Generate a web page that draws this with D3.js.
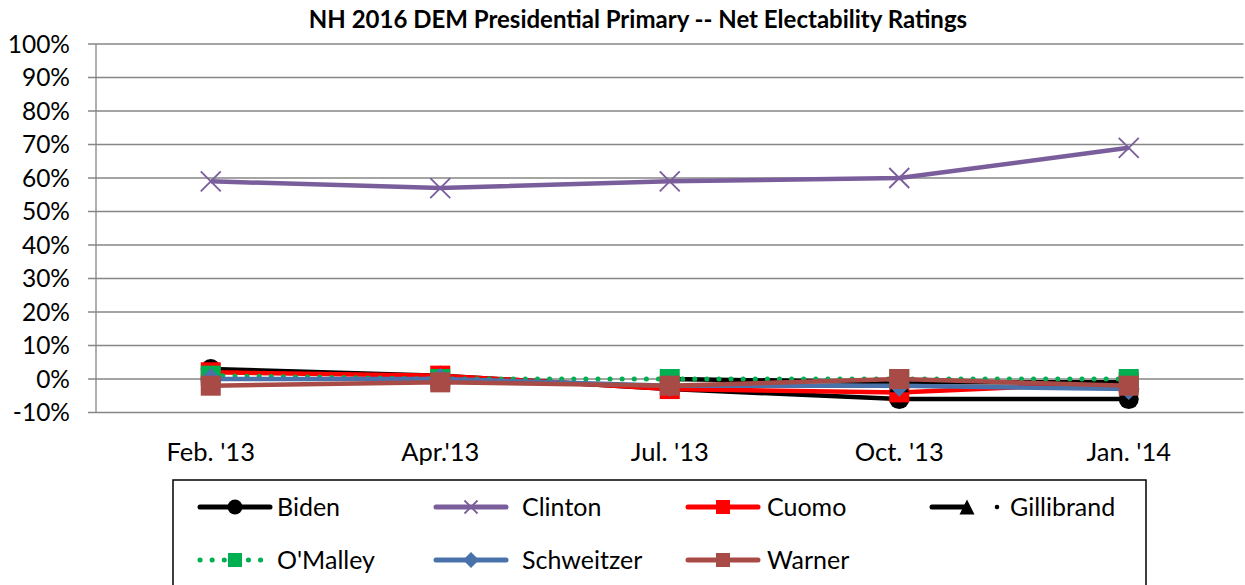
<!DOCTYPE html>
<html><head><meta charset="utf-8">
<script src="https://cdn.jsdelivr.net/npm/d3@7"></script>
<style>
html,body{margin:0;padding:0;background:#fff;}
svg{display:block;font-family:Lato, "Open Sans", sans-serif;}
</style></head>
<body>
<svg id="c" width="1245" height="585"></svg>
<script>
const categories = ["Feb. '13", "Apr.'13", "Jul. '13", "Oct. '13", "Jan. '14"];
const biden      = [3, 1, -3, -6, -6];
const clinton    = [59, 57, 59, 60, 69];
const cuomo      = [2, 1, -3, -4, -1];
const gillibrand = [null, null, 0, -1, -1];
const omalley    = [1, 0, 0, 0, 0];
const schweitzer = [0, 0, -2, -2, -3];
const warner     = [-2, -1, -2, 0, -2];
const yTicks = [-10, 0, 10, 20, 30, 40, 50, 60, 70, 80, 90, 100];
const title = "NH 2016 DEM Presidential Primary -- Net Electability Ratings";

const series = [
  {name:"Biden", values:biden, color:"#000000", marker:"circle"},
  {name:"Clinton", values:clinton, color:"#7A5E9C", marker:"x"},
  {name:"Cuomo", values:cuomo, color:"#FF0000", marker:"square"},
  {name:"Gillibrand", values:gillibrand, color:"#000000", marker:"triangle"},
  {name:"O'Malley", values:omalley, color:"#00B050", marker:"square", dotted:true},
  {name:"Schweitzer", values:schweitzer, color:"#4A72AA", marker:"diamond"},
  {name:"Warner", values:warner, color:"#A84A46", marker:"square"}
];

const svg = d3.select("#c");
const L = 96, R = 1243.5, T = 44, B = 412.5;
const x = d3.scalePoint().domain(categories).range([L, R]).padding(0.5);
const y = d3.scaleLinear().domain([-10, 100]).range([B, T]);

// title
svg.append("text").attr("x", 638).attr("y", 28).attr("text-anchor", "middle")
  .attr("font-weight", "bold").attr("font-size", 24).attr("fill", "#000").text(title);

// gridlines
svg.append("g").selectAll("line").data(yTicks).join("line")
  .attr("x1", L - 8).attr("x2", R).attr("y1", d => y(d)).attr("y2", d => y(d))
  .attr("stroke", "#868686").attr("stroke-width", 1.3);
// y axis line
svg.append("line").attr("x1", L).attr("x2", L).attr("y1", T).attr("y2", B)
  .attr("stroke", "#868686").attr("stroke-width", 1.3);

// y labels
svg.append("g").selectAll("text").data(yTicks).join("text")
  .attr("x", 70).attr("y", d => y(d)).attr("dy", "0.35em").attr("text-anchor", "end")
  .attr("font-size", 24.5).text(d => d + "%");
// x labels
svg.append("g").selectAll("text").data(categories).join("text")
  .attr("x", d => x(d)).attr("y", 461).attr("text-anchor", "middle")
  .attr("font-size", 25.5).text(d => d);

const symSize = {circle: 20, square: 20, diamond: 22, triangle: 20, x: 20};
function drawMarker(g, type, cx, cy, color, size) {
  const s = size;
  if (type === "circle") {
    g.append("circle").attr("cx", cx).attr("cy", cy).attr("r", s/2).attr("fill", color);
  } else if (type === "square") {
    g.append("rect").attr("x", cx - s/2).attr("y", cy - s/2).attr("width", s).attr("height", s).attr("fill", color);
  } else if (type === "diamond") {
    g.append("path").attr("d", `M${cx},${cy-s/2}L${cx+s/2},${cy}L${cx},${cy+s/2}L${cx-s/2},${cy}Z`).attr("fill", color);
  } else if (type === "triangle") {
    g.append("path").attr("d", `M${cx},${cy-s/2}L${cx+s/2},${cy+s/2}L${cx-s/2},${cy+s/2}Z`).attr("fill", color);
  } else if (type === "x") {
    const h = s/2;
    g.append("path").attr("d", `M${cx-h},${cy-h}L${cx+h},${cy+h}M${cx-h},${cy+h}L${cx+h},${cy-h}`)
      .attr("stroke", color).attr("stroke-width", 1.8).attr("fill", "none");
  }
}

const line = d3.line().defined(d => d.v !== null).x(d => x(d.c)).y(d => y(d.v));
series.forEach(s => {
  const g = svg.append("g");
  const pts = categories.map((c, i) => ({c, v: s.values[i]}));
  const p = g.append("path").attr("d", line(pts)).attr("fill", "none")
    .attr("stroke", s.color).attr("stroke-width", 4.5).attr("stroke-linejoin", "round");
  if (s.dotted) p.attr("stroke-dasharray", "0.1 12").attr("stroke-linecap", "round").attr("stroke-width", 5);
  pts.filter(d => d.v !== null).forEach(d => drawMarker(g, s.marker, x(d.c), y(d.v), s.color, symSize[s.marker]));
});

// legend
const lg = svg.append("g");
lg.append("rect").attr("x", 173).attr("y", 480).attr("width", 973).attr("height", 130)
  .attr("fill", "#fff").attr("stroke", "#000").attr("stroke-width", 1.5);
const legendPos = [
  {cx: 235, ty: 507, tx: 277},
  {cx: 471, ty: 507, tx: 522},
  {cx: 723, ty: 507, tx: 767},
  {cx: 949, ty: 507, tx: 1010},
  {cx: 235, ty: 560, tx: 277},
  {cx: 471, ty: 560, tx: 522},
  {cx: 723, ty: 560, tx: 767}
];
const legSize = {circle: 15, square: 14, diamond: 16, triangle: 15, x: 13};
series.forEach((s, i) => {
  const p = legendPos[i];
  const g = lg.append("g");
  if (s.name === "Gillibrand") {
    g.append("line").attr("x1", p.cx - 17).attr("x2", p.cx + 16).attr("y1", p.ty).attr("y2", p.ty)
      .attr("stroke", s.color).attr("stroke-width", 5).attr("stroke-linecap", "round");
    drawMarker(g, s.marker, p.cx + 18, p.ty, s.color, legSize[s.marker]);
    g.append("circle").attr("cx", p.tx - 13).attr("cy", p.ty).attr("r", 2.3).attr("fill", "#000");
  } else {
    const ln = g.append("line").attr("x1", p.cx - 35).attr("x2", p.cx + 35).attr("y1", p.ty).attr("y2", p.ty)
      .attr("stroke", s.color).attr("stroke-width", 5).attr("stroke-linecap", "round");
    if (s.dotted) ln.attr("stroke-dasharray", "0.1 12").attr("stroke-width", 5);
    drawMarker(g, s.marker, p.cx, p.ty, s.color, legSize[s.marker]);
  }
  g.append("text").attr("x", p.tx).attr("y", p.ty).attr("dy", "0.35em").attr("font-size", 25).text(s.name);
});
</script>
</body></html>
